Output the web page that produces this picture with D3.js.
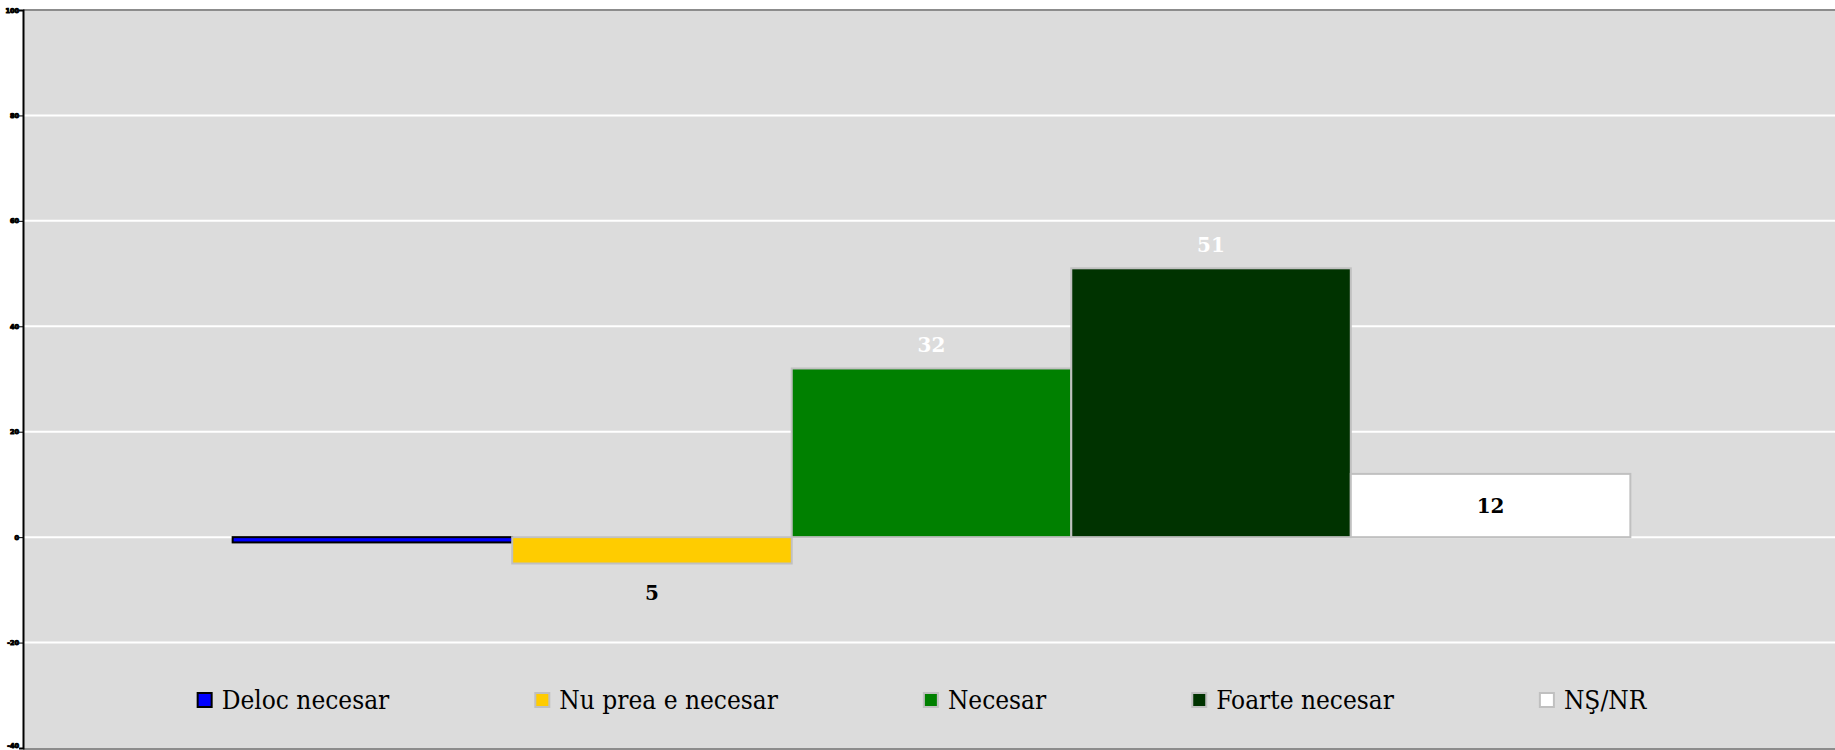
<!DOCTYPE html>
<html>
<head>
<meta charset="utf-8">
<script src="https://cdn.jsdelivr.net/npm/d3@7"></script>
<style>
  html, body { margin: 0; padding: 0; background: #ffffff; }
  svg { display: block; }
</style>
</head>
<body>
<svg id="chart" width="1835" height="750"></svg>
<script>
// ---- data ----
const series = ["Deloc necesar", "Nu prea e necesar", "Necesar", "Foarte necesar", "NŞ/NR"];
const values = [-1, -5, 32, 51, 12];
const valueLabels = ["", "5", "32", "51", "12"];
const yTicks = [-40, -20, 0, 20, 40, 60, 80, 100];
const tickLabels = ["-40", "-20", "0", "20", "40", "60", "80", "100"];

// ---- styles ----
const fills = ["#0000ff", "#ffcc00", "#008000", "#003300", "#ffffff"];
const strokes = ["#000000", "#c0c0c0", "#c0c0c0", "#c0c0c0", "#c0c0c0"];
const labelColors = ["#000000", "#000000", "#ffffff", "#ffffff", "#000000"];

const W = 1835, H = 750;
const plot = { left: 23, right: 1840, top: 10, bottom: 748 };

const svg = d3.select("#chart");

// plot background
svg.append("rect")
  .attr("x", plot.left).attr("y", plot.top)
  .attr("width", plot.right - plot.left).attr("height", plot.bottom - plot.top)
  .attr("fill", "#dcdcdc");

const y = d3.scaleLinear().domain([-40, 100]).range([plot.bottom, plot.top]);

// band for the 5 series with 150% gap width
const plotW = plot.right - plot.left;
const barW = plotW / (series.length + 1.5);
const gLeft = plot.left + barW * 0.75;
const x = d3.scaleBand().domain(series).range([gLeft, gLeft + barW * series.length]).padding(0);

// grid lines
svg.append("g").selectAll("line")
  .data(yTicks.filter(t => t !== 100 && t !== -40))
  .join("line")
  .attr("x1", plot.left).attr("x2", plot.right)
  .attr("y1", d => y(d)).attr("y2", d => y(d))
  .attr("stroke", "#ffffff").attr("stroke-width", 2);

// frame top/bottom
svg.append("line").attr("x1", plot.left).attr("x2", plot.right)
  .attr("y1", plot.top).attr("y2", plot.top)
  .attr("stroke", "#8c8c8c").attr("stroke-width", 2);
svg.append("line").attr("x1", plot.left).attr("x2", plot.right)
  .attr("y1", plot.bottom + 1).attr("y2", plot.bottom + 1)
  .attr("stroke", "#8c8c8c").attr("stroke-width", 2);

// bars
svg.append("g").selectAll("rect")
  .data(series)
  .join("rect")
  .attr("x", d => x(d))
  .attr("width", x.bandwidth())
  .attr("y", (d, i) => Math.min(y(0), y(values[i])))
  .attr("height", (d, i) => Math.abs(y(values[i]) - y(0)))
  .attr("fill", (d, i) => fills[i])
  .attr("stroke", (d, i) => strokes[i])
  .attr("stroke-width", 2);

// value labels
svg.append("g").selectAll("text")
  .data(series)
  .join("text")
  .attr("x", d => x(d) + x.bandwidth() / 2)
  .attr("y", (d, i) => {
    const v = values[i];
    if (d === "NŞ/NR") return (y(0) + y(v)) / 2;
    if (v >= 0) return y(v) - 23;
    return y(v) + 29;
  })
  .attr("dy", "0.35em")
  .attr("text-anchor", "middle")
  .attr("font-family", "DejaVu Serif, serif")
  .attr("font-weight", "bold")
  .attr("font-size", 20)
  .attr("fill", (d, i) => labelColors[i])
  .text((d, i) => valueLabels[i]);

// y axis
const axis = d3.axisLeft(y).tickValues(yTicks).tickSize(4)
  .tickFormat((d, i) => tickLabels[i]);
const ax = svg.append("g").attr("transform", `translate(${plot.left},0)`).call(axis);
ax.select(".domain").attr("stroke", "#000").attr("stroke-width", 2);
ax.selectAll(".tick line").attr("stroke", "#000").attr("stroke-width", 1);
ax.selectAll(".tick text")
  .attr("x", -4)
  .attr("y", d => d === -40 ? -3 : 0)
  .attr("font-family", "DejaVu Sans, sans-serif")
  .attr("font-weight", "bold")
  .attr("font-size", 6.5)
  .attr("stroke", "#000")
  .attr("stroke-width", 1)
  .attr("fill", "#000");

// legend
const legend = svg.append("g");
const items = legend.selectAll("g").data(series).join("g");
items.append("rect")
  .attr("x", 0).attr("y", -16).attr("width", 14).attr("height", 14)
  .attr("fill", (d, i) => fills[i])
  .attr("stroke", (d, i) => i === 0 ? "#000" : "#c0c0c0")
  .attr("stroke-width", 2);
items.append("text")
  .attr("x", 24).attr("y", 0)
  .attr("font-family", "DejaVu Serif Condensed, DejaVu Serif, serif")
  .attr("font-stretch", "condensed")
  .attr("font-size", 26)
  .attr("fill", "#000")
  .text(d => d);
const gap = 146;
const widths = [];
items.each(function () {
  const w = 24 + d3.select(this).select("text").node().getComputedTextLength();
  widths.push(w);
});
const total = d3.sum(widths) + gap * (series.length - 1);
const startX = 922 - total / 2;
items.attr("transform", (d, i) => {
  const xx = startX + d3.sum(widths.slice(0, i)) + gap * i;
  return `translate(${xx},709)`;
});
</script>
</body>
</html>
